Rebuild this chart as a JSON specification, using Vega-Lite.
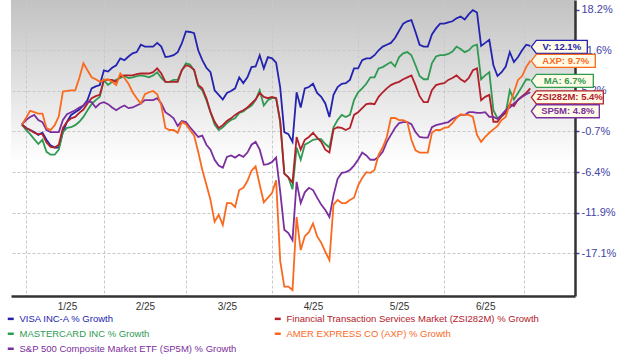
{
"$schema": "https://vega.github.io/schema/vega-lite/v6.json",
"width": 564, "height": 296,
"autosize": {"type": "none"},
"padding": {"left": 11, "top": 0, "right": 45, "bottom": 60},
"background": "white",
"config": {"view": {"stroke": null, "fill": {"gradient": "linear", "x1": 0, "y1": 0, "x2": 0, "y2": 1, "stops": [{"offset": 0, "color": "#c2c2c2"}, {"offset": 0.55, "color": "#ffffff"}, {"offset": 1, "color": "#ffffff"}]}}, "font": "Liberation Sans"},
"datasets": {
"series": [
{"s":"V","d":0,"v":100},{"s":"V","d":1,"v":99.5},{"s":"V","d":2,"v":99.2},{"s":"V","d":3,"v":98.9},{"s":"V","d":4,"v":98.5},{"s":"V","d":5,"v":98.8},{"s":"V","d":6,"v":97.8},{"s":"V","d":7,"v":97.0},{"s":"V","d":8,"v":96.7},{"s":"V","d":9,"v":96.7},
{"s":"V","d":10,"v":98.9},{"s":"V","d":11,"v":100.4},{"s":"V","d":12,"v":101.4},{"s":"V","d":13,"v":101.8},{"s":"V","d":14,"v":102.2},{"s":"V","d":15,"v":102.8},{"s":"V","d":16,"v":103.6},{"s":"V","d":17,"v":105.4},{"s":"V","d":18,"v":105.7},{"s":"V","d":19,"v":105.9},
{"s":"V","d":20,"v":108.2},{"s":"V","d":21,"v":108.0},{"s":"V","d":22,"v":108.6},{"s":"V","d":23,"v":109.0},{"s":"V","d":24,"v":110.1},{"s":"V","d":25,"v":109.8},{"s":"V","d":26,"v":110.4},{"s":"V","d":27,"v":110.9},{"s":"V","d":28,"v":111.1},{"s":"V","d":29,"v":112.3},
{"s":"V","d":30,"v":112.0},{"s":"V","d":31,"v":112.0},{"s":"V","d":32,"v":112.0},{"s":"V","d":33,"v":112.6},{"s":"V","d":34,"v":112.0},{"s":"V","d":35,"v":110.3},{"s":"V","d":36,"v":110.4},{"s":"V","d":37,"v":110.6},{"s":"V","d":38,"v":111.1},{"s":"V","d":39,"v":112.5},
{"s":"V","d":40,"v":114.5},{"s":"V","d":41,"v":114.4},{"s":"V","d":42,"v":114.2},{"s":"V","d":43,"v":111.4},{"s":"V","d":44,"v":109.8},{"s":"V","d":45,"v":108.6},{"s":"V","d":46,"v":107.9},{"s":"V","d":47,"v":105.1},{"s":"V","d":48,"v":104.4},{"s":"V","d":49,"v":103.7},
{"s":"V","d":50,"v":104.7},{"s":"V","d":51,"v":105.0},{"s":"V","d":52,"v":105.4},{"s":"V","d":53,"v":107.1},{"s":"V","d":54,"v":106.2},{"s":"V","d":55,"v":107.1},{"s":"V","d":56,"v":108.7},{"s":"V","d":57,"v":108.8},{"s":"V","d":58,"v":110.6},{"s":"V","d":59,"v":108.5},
{"s":"V","d":60,"v":110.3},{"s":"V","d":61,"v":110.1},{"s":"V","d":62,"v":109.4},{"s":"V","d":63,"v":105.5},{"s":"V","d":64,"v":98.9},{"s":"V","d":65,"v":98.6},{"s":"V","d":66,"v":97.5},{"s":"V","d":67,"v":104.8},{"s":"V","d":68,"v":102.5},{"s":"V","d":69,"v":105.4},
{"s":"V","d":70,"v":105.6},{"s":"V","d":71,"v":106.1},{"s":"V","d":72,"v":104.7},{"s":"V","d":73,"v":104.1},{"s":"V","d":74,"v":103.1},{"s":"V","d":75,"v":101.1},{"s":"V","d":76,"v":104.4},{"s":"V","d":77,"v":105.6},{"s":"V","d":78,"v":106.1},{"s":"V","d":79,"v":106.2},
{"s":"V","d":80,"v":106.7},{"s":"V","d":81,"v":108.5},{"s":"V","d":82,"v":108.5},{"s":"V","d":83,"v":109.8},{"s":"V","d":84,"v":110.1},{"s":"V","d":85,"v":110.1},{"s":"V","d":86,"v":110.6},{"s":"V","d":87,"v":111.4},{"s":"V","d":88,"v":112.0},{"s":"V","d":89,"v":112.3},
{"s":"V","d":90,"v":112.6},{"s":"V","d":91,"v":113.4},{"s":"V","d":92,"v":114.6},{"s":"V","d":93,"v":115.8},{"s":"V","d":94,"v":116.2},{"s":"V","d":95,"v":116.4},{"s":"V","d":96,"v":114.4},{"s":"V","d":97,"v":112.3},{"s":"V","d":98,"v":112.0},{"s":"V","d":99,"v":112.0},
{"s":"V","d":100,"v":114.0},{"s":"V","d":101,"v":115.0},{"s":"V","d":102,"v":115.8},{"s":"V","d":103,"v":115.8},{"s":"V","d":104,"v":116.0},{"s":"V","d":105,"v":116.2},{"s":"V","d":106,"v":116.7},{"s":"V","d":107,"v":117.0},{"s":"V","d":108,"v":116.5},{"s":"V","d":109,"v":117.4},
{"s":"V","d":110,"v":118.1},{"s":"V","d":111,"v":117.7},{"s":"V","d":112,"v":112.1},{"s":"V","d":113,"v":112.6},{"s":"V","d":114,"v":113.1},{"s":"V","d":115,"v":109.0},{"s":"V","d":116,"v":107.3},{"s":"V","d":117,"v":107.9},{"s":"V","d":118,"v":108.8},{"s":"V","d":119,"v":111.1},
{"s":"V","d":120,"v":109.5},{"s":"V","d":121,"v":110.3},{"s":"V","d":122,"v":111.4},{"s":"V","d":123,"v":112.3},{"s":"V","d":124,"v":112.1},

{"s":"MA","d":0,"v":100},{"s":"MA","d":1,"v":99.2},{"s":"MA","d":2,"v":98.6},{"s":"MA","d":3,"v":97.9},{"s":"MA","d":4,"v":97.2},{"s":"MA","d":5,"v":97.8},{"s":"MA","d":6,"v":96.1},{"s":"MA","d":7,"v":95.7},{"s":"MA","d":8,"v":95.7},{"s":"MA","d":9,"v":96.4},
{"s":"MA","d":10,"v":98.9},{"s":"MA","d":11,"v":99.5},{"s":"MA","d":12,"v":99.6},{"s":"MA","d":13,"v":99.9},{"s":"MA","d":14,"v":100.4},{"s":"MA","d":15,"v":101.1},{"s":"MA","d":16,"v":102.1},{"s":"MA","d":17,"v":103.0},{"s":"MA","d":18,"v":103.6},{"s":"MA","d":19,"v":104.1},
{"s":"MA","d":20,"v":106.7},{"s":"MA","d":21,"v":105.9},{"s":"MA","d":22,"v":106.4},{"s":"MA","d":23,"v":106.7},{"s":"MA","d":24,"v":107.0},{"s":"MA","d":25,"v":107.3},{"s":"MA","d":26,"v":107.0},{"s":"MA","d":27,"v":107.1},{"s":"MA","d":28,"v":107.3},{"s":"MA","d":29,"v":107.4},
{"s":"MA","d":30,"v":107.3},{"s":"MA","d":31,"v":107.1},{"s":"MA","d":32,"v":107.4},{"s":"MA","d":33,"v":107.9},{"s":"MA","d":34,"v":107.0},{"s":"MA","d":35,"v":106.4},{"s":"MA","d":36,"v":106.4},{"s":"MA","d":37,"v":106.7},{"s":"MA","d":38,"v":106.7},{"s":"MA","d":39,"v":108.2},
{"s":"MA","d":40,"v":109.3},{"s":"MA","d":41,"v":109.1},{"s":"MA","d":42,"v":108.2},{"s":"MA","d":43,"v":105.7},{"s":"MA","d":44,"v":105.1},{"s":"MA","d":45,"v":103.6},{"s":"MA","d":46,"v":101.8},{"s":"MA","d":47,"v":100.0},{"s":"MA","d":48,"v":99.2},{"s":"MA","d":49,"v":99.6},
{"s":"MA","d":50,"v":100.2},{"s":"MA","d":51,"v":100.65},{"s":"MA","d":52,"v":100.9},{"s":"MA","d":53,"v":101.7},{"s":"MA","d":54,"v":101.9},{"s":"MA","d":55,"v":102.4},{"s":"MA","d":56,"v":102.8},{"s":"MA","d":57,"v":103.6},{"s":"MA","d":58,"v":105.1},{"s":"MA","d":59,"v":102.8},
{"s":"MA","d":60,"v":103.6},{"s":"MA","d":61,"v":103.9},{"s":"MA","d":62,"v":103.9},{"s":"MA","d":63,"v":100.3},{"s":"MA","d":64,"v":93.1},{"s":"MA","d":65,"v":92.6},{"s":"MA","d":66,"v":91.0},{"s":"MA","d":67,"v":96.7},{"s":"MA","d":68,"v":95.0},{"s":"MA","d":69,"v":97.1},
{"s":"MA","d":70,"v":97.4},{"s":"MA","d":71,"v":97.8},{"s":"MA","d":72,"v":97.9},{"s":"MA","d":73,"v":97.9},{"s":"MA","d":74,"v":97.2},{"s":"MA","d":75,"v":96.7},{"s":"MA","d":76,"v":99.6},{"s":"MA","d":77,"v":100.65},{"s":"MA","d":78,"v":101.4},{"s":"MA","d":79,"v":101.1},
{"s":"MA","d":80,"v":101.4},{"s":"MA","d":81,"v":103.6},{"s":"MA","d":82,"v":104.8},{"s":"MA","d":83,"v":105.4},{"s":"MA","d":84,"v":106.1},{"s":"MA","d":85,"v":107.1},{"s":"MA","d":86,"v":107.1},{"s":"MA","d":87,"v":108.5},{"s":"MA","d":88,"v":108.7},{"s":"MA","d":89,"v":109.1},
{"s":"MA","d":90,"v":109.5},{"s":"MA","d":91,"v":108.8},{"s":"MA","d":92,"v":110.3},{"s":"MA","d":93,"v":110.9},{"s":"MA","d":94,"v":111.1},{"s":"MA","d":95,"v":110.6},{"s":"MA","d":96,"v":109.0},{"s":"MA","d":97,"v":107.3},{"s":"MA","d":98,"v":106.8},{"s":"MA","d":99,"v":106.8},
{"s":"MA","d":100,"v":109.3},{"s":"MA","d":101,"v":110.4},{"s":"MA","d":102,"v":110.6},{"s":"MA","d":103,"v":110.6},{"s":"MA","d":104,"v":110.8},{"s":"MA","d":105,"v":111.2},{"s":"MA","d":106,"v":112.0},{"s":"MA","d":107,"v":111.6},{"s":"MA","d":108,"v":111.1},{"s":"MA","d":109,"v":111.4},
{"s":"MA","d":110,"v":112.1},{"s":"MA","d":111,"v":112.3},{"s":"MA","d":112,"v":106.8},{"s":"MA","d":113,"v":107.4},{"s":"MA","d":114,"v":107.9},{"s":"MA","d":115,"v":102.1},{"s":"MA","d":116,"v":100.9},{"s":"MA","d":117,"v":101.2},{"s":"MA","d":118,"v":101.7},{"s":"MA","d":119,"v":105.1},
{"s":"MA","d":120,"v":103.7},{"s":"MA","d":121,"v":104.7},{"s":"MA","d":122,"v":105.7},{"s":"MA","d":123,"v":106.8},{"s":"MA","d":124,"v":106.7},

{"s":"ZSI282M","d":0,"v":100},{"s":"ZSI282M","d":1,"v":99.5},{"s":"ZSI282M","d":2,"v":99.2},{"s":"ZSI282M","d":3,"v":98.8},{"s":"ZSI282M","d":4,"v":98.6},{"s":"ZSI282M","d":5,"v":98.6},{"s":"ZSI282M","d":6,"v":97.4},{"s":"ZSI282M","d":7,"v":96.8},{"s":"ZSI282M","d":8,"v":96.7},{"s":"ZSI282M","d":9,"v":97.1},
{"s":"ZSI282M","d":10,"v":99.5},{"s":"ZSI282M","d":11,"v":100.4},{"s":"ZSI282M","d":12,"v":100.9},{"s":"ZSI282M","d":13,"v":101.1},{"s":"ZSI282M","d":14,"v":101.7},{"s":"ZSI282M","d":15,"v":102.2},{"s":"ZSI282M","d":16,"v":103.1},{"s":"ZSI282M","d":17,"v":103.9},{"s":"ZSI282M","d":18,"v":104.2},{"s":"ZSI282M","d":19,"v":104.4},
{"s":"ZSI282M","d":20,"v":106.7},{"s":"ZSI282M","d":21,"v":106.7},{"s":"ZSI282M","d":22,"v":106.7},{"s":"ZSI282M","d":23,"v":106.4},{"s":"ZSI282M","d":24,"v":107.3},{"s":"ZSI282M","d":25,"v":107.4},{"s":"ZSI282M","d":26,"v":107.4},{"s":"ZSI282M","d":27,"v":107.4},{"s":"ZSI282M","d":28,"v":107.6},{"s":"ZSI282M","d":29,"v":107.7},
{"s":"ZSI282M","d":30,"v":107.7},{"s":"ZSI282M","d":31,"v":107.7},{"s":"ZSI282M","d":32,"v":107.9},{"s":"ZSI282M","d":33,"v":108.5},{"s":"ZSI282M","d":34,"v":107.7},{"s":"ZSI282M","d":35,"v":106.4},{"s":"ZSI282M","d":36,"v":106.4},{"s":"ZSI282M","d":37,"v":106.4},{"s":"ZSI282M","d":38,"v":106.4},{"s":"ZSI282M","d":39,"v":108.2},
{"s":"ZSI282M","d":40,"v":109.0},{"s":"ZSI282M","d":41,"v":108.8},{"s":"ZSI282M","d":42,"v":108.3},{"s":"ZSI282M","d":43,"v":105.9},{"s":"ZSI282M","d":44,"v":105.4},{"s":"ZSI282M","d":45,"v":103.9},{"s":"ZSI282M","d":46,"v":101.8},{"s":"ZSI282M","d":47,"v":100.4},{"s":"ZSI282M","d":48,"v":99.5},{"s":"ZSI282M","d":49,"v":99.9},
{"s":"ZSI282M","d":50,"v":100.5},{"s":"ZSI282M","d":51,"v":100.9},{"s":"ZSI282M","d":52,"v":101.4},{"s":"ZSI282M","d":53,"v":101.8},{"s":"ZSI282M","d":54,"v":102.1},{"s":"ZSI282M","d":55,"v":102.5},{"s":"ZSI282M","d":56,"v":103.1},{"s":"ZSI282M","d":57,"v":103.7},{"s":"ZSI282M","d":58,"v":104.7},{"s":"ZSI282M","d":59,"v":104.1},
{"s":"ZSI282M","d":60,"v":103.9},{"s":"ZSI282M","d":61,"v":104.1},{"s":"ZSI282M","d":62,"v":103.9},{"s":"ZSI282M","d":63,"v":100.5},{"s":"ZSI282M","d":64,"v":93.1},{"s":"ZSI282M","d":65,"v":92.6},{"s":"ZSI282M","d":66,"v":91.9},{"s":"ZSI282M","d":67,"v":98.2},{"s":"ZSI282M","d":68,"v":96.4},{"s":"ZSI282M","d":69,"v":97.8},
{"s":"ZSI282M","d":70,"v":98.2},{"s":"ZSI282M","d":71,"v":98.8},{"s":"ZSI282M","d":72,"v":98.1},{"s":"ZSI282M","d":73,"v":97.5},{"s":"ZSI282M","d":74,"v":96.4},{"s":"ZSI282M","d":75,"v":96.0},{"s":"ZSI282M","d":76,"v":99.3},{"s":"ZSI282M","d":77,"v":99.6},{"s":"ZSI282M","d":78,"v":99.5},{"s":"ZSI282M","d":79,"v":99.2},
{"s":"ZSI282M","d":80,"v":99.5},{"s":"ZSI282M","d":81,"v":101.4},{"s":"ZSI282M","d":82,"v":101.8},{"s":"ZSI282M","d":83,"v":102.4},{"s":"ZSI282M","d":84,"v":103.0},{"s":"ZSI282M","d":85,"v":103.1},{"s":"ZSI282M","d":86,"v":103.0},{"s":"ZSI282M","d":87,"v":104.1},{"s":"ZSI282M","d":88,"v":104.8},{"s":"ZSI282M","d":89,"v":105.4},
{"s":"ZSI282M","d":90,"v":105.9},{"s":"ZSI282M","d":91,"v":106.2},{"s":"ZSI282M","d":92,"v":106.4},{"s":"ZSI282M","d":93,"v":106.8},{"s":"ZSI282M","d":94,"v":107.1},{"s":"ZSI282M","d":95,"v":107.4},{"s":"ZSI282M","d":96,"v":105.9},{"s":"ZSI282M","d":97,"v":104.2},{"s":"ZSI282M","d":98,"v":103.3},{"s":"ZSI282M","d":99,"v":103.3},
{"s":"ZSI282M","d":100,"v":105.1},{"s":"ZSI282M","d":101,"v":105.9},{"s":"ZSI282M","d":102,"v":106.1},{"s":"ZSI282M","d":103,"v":106.2},{"s":"ZSI282M","d":104,"v":106.7},{"s":"ZSI282M","d":105,"v":107.0},{"s":"ZSI282M","d":106,"v":107.4},{"s":"ZSI282M","d":107,"v":106.8},{"s":"ZSI282M","d":108,"v":106.4},{"s":"ZSI282M","d":109,"v":107.0},
{"s":"ZSI282M","d":110,"v":108.2},{"s":"ZSI282M","d":111,"v":108.5},{"s":"ZSI282M","d":112,"v":103.6},{"s":"ZSI282M","d":113,"v":104.1},{"s":"ZSI282M","d":114,"v":104.4},{"s":"ZSI282M","d":115,"v":100.4},{"s":"ZSI282M","d":116,"v":100.4},{"s":"ZSI282M","d":117,"v":101.2},{"s":"ZSI282M","d":118,"v":101.8},{"s":"ZSI282M","d":119,"v":103.0},
{"s":"ZSI282M","d":120,"v":102.7},{"s":"ZSI282M","d":121,"v":103.7},{"s":"ZSI282M","d":122,"v":104.2},{"s":"ZSI282M","d":123,"v":104.7},{"s":"ZSI282M","d":124,"v":105.4},

{"s":"SP5M","d":0,"v":100},{"s":"SP5M","d":1,"v":100.65},{"s":"SP5M","d":2,"v":101.1},{"s":"SP5M","d":3,"v":101.4},{"s":"SP5M","d":4,"v":100.65},{"s":"SP5M","d":5,"v":100.35},{"s":"SP5M","d":6,"v":99.2},{"s":"SP5M","d":7,"v":98.9},{"s":"SP5M","d":8,"v":98.9},{"s":"SP5M","d":9,"v":98.9},
{"s":"SP5M","d":10,"v":100.65},{"s":"SP5M","d":11,"v":101.5},{"s":"SP5M","d":12,"v":101.8},{"s":"SP5M","d":13,"v":102.1},{"s":"SP5M","d":14,"v":102.5},{"s":"SP5M","d":15,"v":102.8},{"s":"SP5M","d":16,"v":103.4},{"s":"SP5M","d":17,"v":103.3},{"s":"SP5M","d":18,"v":102.5},{"s":"SP5M","d":19,"v":103.1},
{"s":"SP5M","d":20,"v":103.3},{"s":"SP5M","d":21,"v":103.0},{"s":"SP5M","d":22,"v":102.5},{"s":"SP5M","d":23,"v":102.1},{"s":"SP5M","d":24,"v":102.5},{"s":"SP5M","d":25,"v":102.8},{"s":"SP5M","d":26,"v":102.4},{"s":"SP5M","d":27,"v":102.5},{"s":"SP5M","d":28,"v":102.8},{"s":"SP5M","d":29,"v":103.1},
{"s":"SP5M","d":30,"v":103.6},{"s":"SP5M","d":31,"v":103.6},{"s":"SP5M","d":32,"v":103.6},{"s":"SP5M","d":33,"v":103.9},{"s":"SP5M","d":34,"v":103.1},{"s":"SP5M","d":35,"v":101.8},{"s":"SP5M","d":36,"v":101.4},{"s":"SP5M","d":37,"v":100.9},{"s":"SP5M","d":38,"v":99.8},{"s":"SP5M","d":39,"v":100.5},
{"s":"SP5M","d":40,"v":100.35},{"s":"SP5M","d":41,"v":99.6},{"s":"SP5M","d":42,"v":98.9},{"s":"SP5M","d":43,"v":98.2},{"s":"SP5M","d":44,"v":98.4},{"s":"SP5M","d":45,"v":97.1},{"s":"SP5M","d":46,"v":96.4},{"s":"SP5M","d":47,"v":95.0},{"s":"SP5M","d":48,"v":94.2},{"s":"SP5M","d":49,"v":93.9},
{"s":"SP5M","d":50,"v":95.4},{"s":"SP5M","d":51,"v":95.6},{"s":"SP5M","d":52,"v":95.3},{"s":"SP5M","d":53,"v":95.7},{"s":"SP5M","d":54,"v":95.4},{"s":"SP5M","d":55,"v":96.0},{"s":"SP5M","d":56,"v":97.1},{"s":"SP5M","d":57,"v":97.5},{"s":"SP5M","d":58,"v":96.4},{"s":"SP5M","d":59,"v":94.3},
{"s":"SP5M","d":60,"v":94.4},{"s":"SP5M","d":61,"v":94.7},{"s":"SP5M","d":62,"v":95.3},{"s":"SP5M","d":63,"v":90.7},{"s":"SP5M","d":64,"v":85.8},{"s":"SP5M","d":65,"v":85.4},{"s":"SP5M","d":66,"v":84.5},{"s":"SP5M","d":67,"v":92.0},{"s":"SP5M","d":68,"v":89.2},{"s":"SP5M","d":69,"v":90.6},
{"s":"SP5M","d":70,"v":91.2},{"s":"SP5M","d":71,"v":90.9},{"s":"SP5M","d":72,"v":89.9},{"s":"SP5M","d":73,"v":89.0},{"s":"SP5M","d":74,"v":88.3},{"s":"SP5M","d":75,"v":87.4},{"s":"SP5M","d":76,"v":90.2},{"s":"SP5M","d":77,"v":92.4},{"s":"SP5M","d":78,"v":93.2},{"s":"SP5M","d":79,"v":93.3},
{"s":"SP5M","d":80,"v":93.6},{"s":"SP5M","d":81,"v":94.2},{"s":"SP5M","d":82,"v":95.0},{"s":"SP5M","d":83,"v":96.0},{"s":"SP5M","d":84,"v":95.6},{"s":"SP5M","d":85,"v":95.0},{"s":"SP5M","d":86,"v":95.0},{"s":"SP5M","d":87,"v":95.4},{"s":"SP5M","d":88,"v":96.1},{"s":"SP5M","d":89,"v":97.5},
{"s":"SP5M","d":90,"v":98.5},{"s":"SP5M","d":91,"v":99.5},{"s":"SP5M","d":92,"v":100.2},{"s":"SP5M","d":93,"v":100.35},{"s":"SP5M","d":94,"v":100.35},{"s":"SP5M","d":95,"v":100.05},{"s":"SP5M","d":96,"v":98.9},{"s":"SP5M","d":97,"v":98.2},{"s":"SP5M","d":98,"v":98.1},{"s":"SP5M","d":99,"v":98.1},
{"s":"SP5M","d":100,"v":99.6},{"s":"SP5M","d":101,"v":99.9},{"s":"SP5M","d":102,"v":100.05},{"s":"SP5M","d":103,"v":100.2},{"s":"SP5M","d":104,"v":100.35},{"s":"SP5M","d":105,"v":100.8},{"s":"SP5M","d":106,"v":101.1},{"s":"SP5M","d":107,"v":101.4},{"s":"SP5M","d":108,"v":101.4},{"s":"SP5M","d":109,"v":101.8},
{"s":"SP5M","d":110,"v":101.8},{"s":"SP5M","d":111,"v":101.7},{"s":"SP5M","d":112,"v":101.7},{"s":"SP5M","d":113,"v":101.8},{"s":"SP5M","d":114,"v":101.1},{"s":"SP5M","d":115,"v":101.1},{"s":"SP5M","d":116,"v":100.8},{"s":"SP5M","d":117,"v":101.4},{"s":"SP5M","d":118,"v":102.1},{"s":"SP5M","d":119,"v":102.5},
{"s":"SP5M","d":120,"v":103.1},{"s":"SP5M","d":121,"v":103.6},{"s":"SP5M","d":122,"v":104.1},{"s":"SP5M","d":123,"v":104.5},{"s":"SP5M","d":124,"v":104.8},

{"s":"AXP","d":0,"v":100},{"s":"AXP","d":1,"v":100.95},{"s":"AXP","d":2,"v":102.0},{"s":"AXP","d":3,"v":101.8},{"s":"AXP","d":4,"v":101.6},{"s":"AXP","d":5,"v":101.6},{"s":"AXP","d":6,"v":99.5},{"s":"AXP","d":7,"v":99.2},{"s":"AXP","d":8,"v":99.9},{"s":"AXP","d":9,"v":101.2},
{"s":"AXP","d":10,"v":104.9},{"s":"AXP","d":11,"v":105.0},{"s":"AXP","d":12,"v":105.1},{"s":"AXP","d":13,"v":105.1},{"s":"AXP","d":14,"v":107.0},{"s":"AXP","d":15,"v":109.3},{"s":"AXP","d":16,"v":108.2},{"s":"AXP","d":17,"v":107.1},{"s":"AXP","d":18,"v":106.8},{"s":"AXP","d":19,"v":106.4},
{"s":"AXP","d":20,"v":106.7},{"s":"AXP","d":21,"v":106.8},{"s":"AXP","d":22,"v":106.4},{"s":"AXP","d":23,"v":105.9},{"s":"AXP","d":24,"v":107.7},{"s":"AXP","d":25,"v":107.0},{"s":"AXP","d":26,"v":106.1},{"s":"AXP","d":27,"v":104.8},{"s":"AXP","d":28,"v":103.9},{"s":"AXP","d":29,"v":103.1},
{"s":"AXP","d":30,"v":104.5},{"s":"AXP","d":31,"v":104.8},{"s":"AXP","d":32,"v":105.0},{"s":"AXP","d":33,"v":104.5},{"s":"AXP","d":34,"v":102.8},{"s":"AXP","d":35,"v":99.5},{"s":"AXP","d":36,"v":99.2},{"s":"AXP","d":37,"v":99.2},{"s":"AXP","d":38,"v":98.8},{"s":"AXP","d":39,"v":100.35},
{"s":"AXP","d":40,"v":100.05},{"s":"AXP","d":41,"v":99.2},{"s":"AXP","d":42,"v":98.4},{"s":"AXP","d":43,"v":96.1},{"s":"AXP","d":44,"v":93.6},{"s":"AXP","d":45,"v":91.6},{"s":"AXP","d":46,"v":89.6},{"s":"AXP","d":47,"v":86.8},{"s":"AXP","d":48,"v":87.7},{"s":"AXP","d":49,"v":86.4},
{"s":"AXP","d":50,"v":89.2},{"s":"AXP","d":51,"v":89.2},{"s":"AXP","d":52,"v":88.7},{"s":"AXP","d":53,"v":90.9},{"s":"AXP","d":54,"v":91.2},{"s":"AXP","d":55,"v":92.1},{"s":"AXP","d":56,"v":93.5},{"s":"AXP","d":57,"v":94.1},{"s":"AXP","d":58,"v":91.6},{"s":"AXP","d":59,"v":89.3},
{"s":"AXP","d":60,"v":89.9},{"s":"AXP","d":61,"v":90.5},{"s":"AXP","d":62,"v":92.2},{"s":"AXP","d":63,"v":82.0},{"s":"AXP","d":64,"v":79.0},{"s":"AXP","d":65,"v":79.0},{"s":"AXP","d":66,"v":78.6},{"s":"AXP","d":67,"v":87.4},{"s":"AXP","d":68,"v":83.3},{"s":"AXP","d":69,"v":85.0},
{"s":"AXP","d":70,"v":85.5},{"s":"AXP","d":71,"v":86.6},{"s":"AXP","d":72,"v":85.0},{"s":"AXP","d":73,"v":84.2},{"s":"AXP","d":74,"v":83.1},{"s":"AXP","d":75,"v":82.1},{"s":"AXP","d":76,"v":89.0},{"s":"AXP","d":77,"v":89.6},{"s":"AXP","d":78,"v":89.2},{"s":"AXP","d":79,"v":89.2},
{"s":"AXP","d":80,"v":89.6},{"s":"AXP","d":81,"v":89.9},{"s":"AXP","d":82,"v":91.5},{"s":"AXP","d":83,"v":92.5},{"s":"AXP","d":84,"v":93.3},{"s":"AXP","d":85,"v":93.2},{"s":"AXP","d":86,"v":93.6},{"s":"AXP","d":87,"v":95.7},{"s":"AXP","d":88,"v":96.7},{"s":"AXP","d":89,"v":98.2},
{"s":"AXP","d":90,"v":100.95},{"s":"AXP","d":91,"v":100.95},{"s":"AXP","d":92,"v":100.65},{"s":"AXP","d":93,"v":100.65},{"s":"AXP","d":94,"v":100.35},{"s":"AXP","d":95,"v":97.8},{"s":"AXP","d":96,"v":96.3},{"s":"AXP","d":97,"v":96.0},{"s":"AXP","d":98,"v":96.0},{"s":"AXP","d":99,"v":96.0},
{"s":"AXP","d":100,"v":98.8},{"s":"AXP","d":101,"v":99.2},{"s":"AXP","d":102,"v":99.2},{"s":"AXP","d":103,"v":99.5},{"s":"AXP","d":104,"v":99.6},{"s":"AXP","d":105,"v":100.2},{"s":"AXP","d":106,"v":100.95},{"s":"AXP","d":107,"v":101.5},{"s":"AXP","d":108,"v":101.4},{"s":"AXP","d":109,"v":101.4},
{"s":"AXP","d":110,"v":101.1},{"s":"AXP","d":111,"v":98.5},{"s":"AXP","d":112,"v":97.5},{"s":"AXP","d":113,"v":98.2},{"s":"AXP","d":114,"v":98.8},{"s":"AXP","d":115,"v":99.3},{"s":"AXP","d":116,"v":99.8},{"s":"AXP","d":117,"v":100.65},{"s":"AXP","d":118,"v":101.1},{"s":"AXP","d":119,"v":103.0},
{"s":"AXP","d":120,"v":104.8},{"s":"AXP","d":121,"v":106.7},{"s":"AXP","d":122,"v":107.3},{"s":"AXP","d":123,"v":108.7},{"s":"AXP","d":124,"v":109.7}
],
"ends": [
{"s":"V","d":124,"v":112.1,"lab":"V: 12.1%"},
{"s":"AXP","d":124,"v":109.7,"lab":"AXP: 9.7%"},
{"s":"MA","d":124,"v":106.7,"lab":"MA: 6.7%"},
{"s":"ZSI282M","d":124,"v":105.4,"lab":"ZSI282M: 5.4%"},
{"s":"SP5M","d":124,"v":104.8,"lab":"SP5M: 4.8%"}
]
},
"layer": [
{
"data": {"name": "series"},
"mark": {"type": "line", "strokeWidth": 1.8, "clip": true},
"encoding": {
"x": {"field": "d", "type": "quantitative",
 "scale": {"domain": [-2.66, 134.9], "nice": false, "zero": false},
 "axis": {"values": [1, 20, 40, 61, 82, 103, 122.5], "title": null, "grid": true, "gridColor": "#c8c8c8", "gridDash": [3, 2], "gridWidth": 1,
  "ticks": false, "domain": true, "domainColor": "#333333", "domainWidth": 2.5,
  "labelExpr": "datum.value < 5 ? '1/25' : datum.value < 25 ? '2/25' : datum.value < 45 ? '3/25' : datum.value < 65 ? '4/25' : datum.value < 90 ? '5/25' : datum.value < 110 ? '6/25' : ''",
  "labelFont": "Liberation Sans", "labelFontSize": 10, "labelColor": "#333333", "labelPadding": 5, "labelOffset": 41, "labelFlush": false, "labelOverlap": false, "labelBound": false}},
"y": {"field": "v", "type": "quantitative",
 "scale": {"type": "log", "domain": [77.92, 119.85], "nice": false, "zero": false},
 "axis": {"orient": "right", "values": [118.2, 111.41, 105.02, 98.99, 93.31, 87.96, 82.9], "title": null,
  "grid": true, "gridColor": "#c8c8c8", "gridDash": [3, 2], "gridWidth": 1,
  "ticks": true, "tickColor": "#4343a8", "tickSize": 4, "tickWidth": 1.5,
  "domain": true, "domainColor": "#333333", "domainWidth": 2.5,
  "labelExpr": "datum.value > 115 ? '18.2%' : datum.value > 108 ? '11.6%' : datum.value > 102 ? '5.2%' : datum.value > 96 ? '-0.7%' : datum.value > 90 ? '-6.4%' : datum.value > 85 ? '-11.9%' : '-17.1%'",
  "labelFont": "Liberation Sans", "labelFontSize": 11, "labelColor": "#4343a8", "labelPadding": 2, "labelFlush": false, "labelOverlap": false, "labelBound": false}},
"color": {"field": "s", "type": "nominal",
 "scale": {"domain": ["V", "ZSI282M", "MA", "AXP", "SP5M"], "range": ["#2323b0", "#b3202a", "#2e9a52", "#fa6a1e", "#7b2f9e"]},
 "legend": {"orient": "none", "direction": "horizontal", "legendX": -5, "legendY": 314, "columns": 2, "columnPadding": 32, "rowPadding": 4, "padding": 0,
  "symbolType": "stroke", "symbolSize": 36, "symbolStrokeWidth": 2.5, "labelFont": "Liberation Sans", "labelFontSize": 9.5, "labelOffset": 4, "labelLimit": 400, "title": null,
  "labelExpr": "datum.label == 'V' ? 'VISA INC-A % Growth' : datum.label == 'ZSI282M' ? 'Financial Transaction Services Market (ZSI282M) % Growth' : datum.label == 'MA' ? 'MASTERCARD INC % Growth' : datum.label == 'AXP' ? 'AMER EXPRESS CO (AXP) % Growth' : 'S&P 500 Composite Market ETF (SP5M) % Growth'",
  "encode": {"labels": {"update": {"fill": {"scale": "color", "field": "value"}}}}}}
}
},
{
"data": {"name": "ends"},
"mark": {"type": "point", "filled": true, "fill": "#fffbe6", "size": 10000, "strokeWidth": 1.3, "opacity": 1},
"encoding": {
"x": {"field": "d", "type": "quantitative"},
"y": {"field": "v", "type": "quantitative"},
"shape": {"field": "s", "type": "nominal", "legend": null,
 "scale": {"domain": ["V", "AXP", "MA", "ZSI282M", "SP5M"],
  "range": ["M0.02,0.02L0.12,-0.11L1.14,-0.11L1.14,0.15L0.12,0.15Z", "M0.02,0L0.12,-0.13L1.3,-0.13L1.3,0.13L0.12,0.13Z", "M0.02,0.02L0.12,-0.11L1.26,-0.11L1.26,0.15L0.12,0.15Z", "M0.02,0.18L0.12,0.05L1.46,0.05L1.46,0.31L0.12,0.31Z", "M0.02,0.38L0.12,0.25L1.38,0.25L1.38,0.51L0.12,0.51Z"]}},
"stroke": {"field": "s", "type": "nominal", "legend": null,
 "scale": {"domain": ["V", "ZSI282M", "MA", "AXP", "SP5M"], "range": ["#2323b0", "#b3202a", "#2e9a52", "#fa6a1e", "#7b2f9e"]}}
}
},
{
"data": {"name": "ends"},
"mark": {"type": "text", "font": "Liberation Sans", "fontSize": 9.5, "fontWeight": "bold", "align": "center", "baseline": "middle",
 "dx": {"expr": "datum.s == 'V' ? 31.5 : datum.s == 'AXP' ? 35.5 : datum.s == 'MA' ? 34.5 : datum.s == 'ZSI282M' ? 39.5 : 37.5"},
 "dy": {"expr": "datum.s == 'V' ? 1 : datum.s == 'AXP' ? 0 : datum.s == 'MA' ? 1 : datum.s == 'ZSI282M' ? 9 : 19"}},
"encoding": {
"x": {"field": "d", "type": "quantitative"},
"y": {"field": "v", "type": "quantitative"},
"text": {"field": "lab"},
"color": {"field": "s", "type": "nominal"}
}
}
]
}
